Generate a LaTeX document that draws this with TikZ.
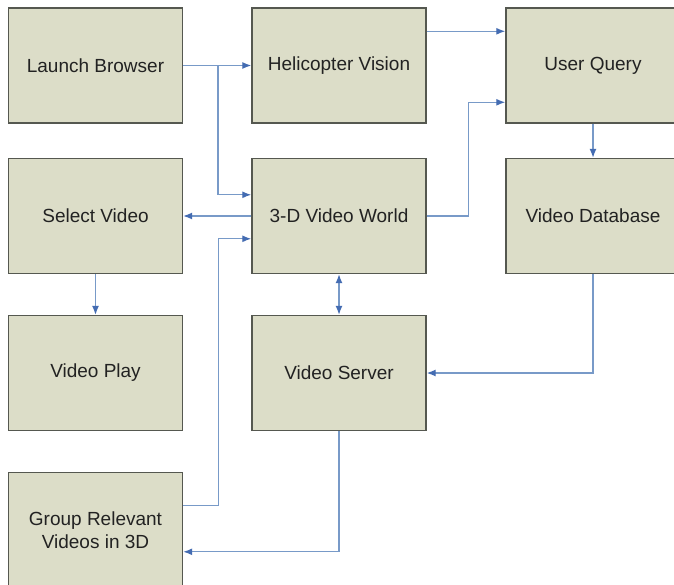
\documentclass[tikz,border=0pt]{standalone}
\usepackage{fontspec}
\setmainfont{Liberation Sans}
\usetikzlibrary{arrows.meta}
\definecolor{boxfill}{RGB}{220,221,200}
\definecolor{boxline}{RGB}{85,88,80}
\definecolor{conn}{RGB}{120,154,200}
\definecolor{tip}{RGB}{68,108,178}
\definecolor{txt}{RGB}{34,34,34}
\tikzset{
  blk/.style={draw=boxline, fill=boxfill, line width=1.4pt, minimum width=174pt, minimum height=115pt, inner sep=0pt, align=center, text=txt, font=\fontsize{19}{23}\selectfont},
  arr/.style={draw=conn, line width=1.3pt, -{Latex[length=9pt,width=7pt,color=tip]}},
  arrb/.style={draw=conn, line width=1.3pt, {Latex[length=9pt,width=7pt,color=tip]}-{Latex[length=9pt,width=7pt,color=tip]}}
}
\begin{document}
\begin{tikzpicture}[x=1pt,y=-1pt]
\useasboundingbox (0,0) rectangle (674,585);
\clip (0,0) rectangle (674,585);
\fill[white] (0,0) rectangle (674,585);
\node[blk] (lb) at (95.5,65.5) {Launch Browser};
\node[blk] (hv) at (339,65.5) {Helicopter Vision};
\node[blk] (uq) at (593,65.5) {User Query};
\node[blk] (sv) at (95.5,216) {Select Video};
\node[blk] (w3d) at (339,216) {3-D Video World};
\node[blk] (db) at (593,216) {Video Database};
\node[blk] (vp) at (95.5,373) {Video Play};
\node[blk] (vs) at (339,373) {Video Server};
\node[blk] (gr) at (95.5,530) {Group Relevant\\Videos in 3D};
\coordinate (j1) at (218,65.5);
\draw[arr] (lb) -- (hv);
\draw[arr] (j1) |- ([yshift=-37pt]w3d.north west);
\draw[arr] ([yshift=-24pt]hv.north east) -- ([yshift=-24pt]uq.north west);
\draw[arr] (w3d.east) -- ++(42,0) |- ([yshift=-95pt]uq.north west);
\draw[arr] (uq) -- (db);
\draw[arr] (w3d) -- (sv);
\draw[arr] ([yshift=-34pt]gr.north east) -- ++(35,0) |- ([yshift=-81pt]w3d.north west);
\draw[arr] (sv) -- (vp);
\draw[arrb] (w3d) -- (vs);
\draw[arr] (db.south) |- (vs.east);
\draw[arr] (vs.south) |- ([yshift=-80pt]gr.north east);
\end{tikzpicture}
\end{document}
